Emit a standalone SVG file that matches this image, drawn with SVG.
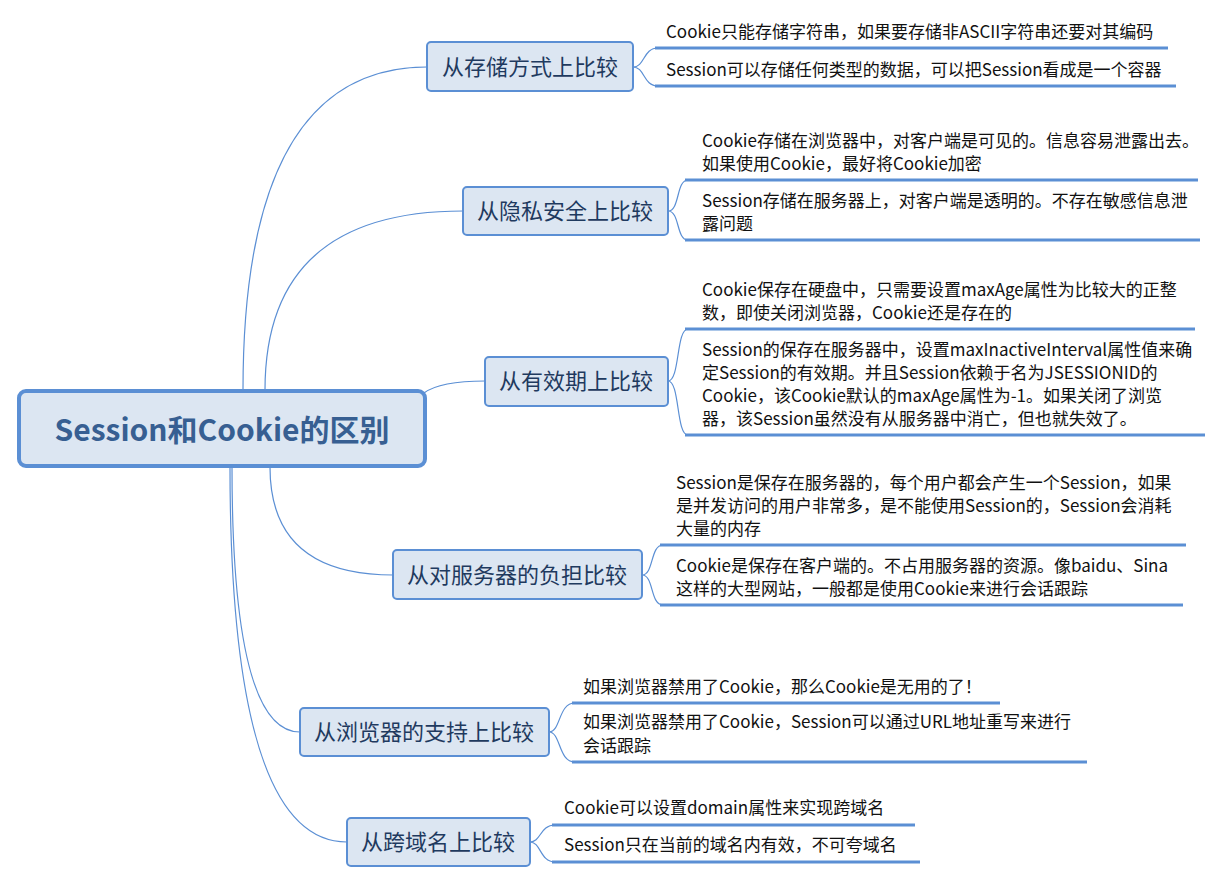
<svg xmlns="http://www.w3.org/2000/svg" width="1231" height="883" viewBox="0 0 1231 883">
<style>
.conn{fill:none;stroke:#5b8fd4;stroke-width:1.2}
.ul{fill:none;stroke:#5b8fd4;stroke-width:3}
.br{fill:#dce6f2;stroke:#5b8fd4;stroke-width:2}
.bt{font-family:"Noto Sans CJK SC",sans-serif;font-size:22px;fill:#1f3a5f;text-anchor:middle}
.lt{font-family:"Noto Sans CJK SC",sans-serif;font-size:17px;fill:#111}
.rt{font-family:"Noto Sans CJK SC",sans-serif;font-size:30px;font-weight:bold;fill:#375f92;text-anchor:middle}
</style>
<rect width="1231" height="883" fill="#fff"/>
<g id="connectors">
<path class="conn" d="M243 390 Q243 67 427 67"/>
<path class="conn" d="M265 390 Q265 211 463 211"/>
<path class="conn" d="M424 393 Q440 381 485 381"/>
<path class="conn" d="M270 467 Q270 575 393 575"/>
<path class="conn" d="M232 467 Q232 732 300 732"/>
<path class="conn" d="M230 467 Q230 842 347 842"/>
<path class="conn" d="M633 67 C645 67 643 48 658 48 M633 67 C645 67 643 86 658 86"/>
<path class="conn" d="M668 211 C680 211 676 180 688 180 M668 211 C680 211 676 240 688 240"/>
<path class="conn" d="M668 381 C680 381 676 329 688 329 M668 381 C680 381 676 435 688 435"/>
<path class="conn" d="M642 575 C654 575 650 545 663 545 M642 575 C654 575 650 605 663 605"/>
<path class="conn" d="M549 732 C561 732 558 703 575 703 M549 732 C561 732 558 762 575 762"/>
<path class="conn" d="M530 842 C541 842 540 825 555 825 M530 842 C541 842 540 862 555 862"/>
</g>
<g id="root">
<rect x="19" y="391" width="406" height="75" rx="7" fill="#dce6f2" stroke="#5b8fd4" stroke-width="4"/>
<text class="rt" x="222" y="441">Session和Cookie的区别</text>
</g>
<g id="n1">
<rect class="br" x="427" y="42" width="206" height="49" rx="4"/>
<text class="bt" x="530" y="75">从存储方式上比较</text>
<path class="ul" d="M655 48 H1168"/>
<text class="lt" x="666" y="38">Cookie只能存储字符串，如果要存储非ASCII字符串还要对其编码</text>
<path class="ul" d="M655 86 H1176"/>
<text class="lt" x="666" y="76">Session可以存储任何类型的数据，可以把Session看成是一个容器</text>
</g>
<g id="n2">
<rect class="br" x="463" y="187" width="205" height="48" rx="4"/>
<text class="bt" x="565" y="219">从隐私安全上比较</text>
<path class="ul" d="M685 180 H1198"/>
<text class="lt" x="702" y="147">Cookie存储在浏览器中，对客户端是可见的。信息容易泄露出去。</text>
<text class="lt" x="702" y="170">如果使用Cookie，最好将Cookie加密</text>
<path class="ul" d="M685 240 H1200"/>
<text class="lt" x="702" y="207">Session存储在服务器上，对客户端是透明的。不存在敏感信息泄</text>
<text class="lt" x="702" y="230">露问题</text>
</g>
<g id="n3">
<rect class="br" x="485" y="357" width="183" height="49" rx="4"/>
<text class="bt" x="576" y="389">从有效期上比较</text>
<path class="ul" d="M685 329 H1195"/>
<text class="lt" x="702" y="296">Cookie保存在硬盘中，只需要设置maxAge属性为比较大的正整</text>
<text class="lt" x="702" y="319">数，即使关闭浏览器，Cookie还是存在的</text>
<path class="ul" d="M685 435 H1205"/>
<text class="lt" x="702" y="356">Session的保存在服务器中，设置maxInactiveInterval属性值来确</text>
<text class="lt" x="702" y="379">定Session的有效期。并且Session依赖于名为JSESSIONID的</text>
<text class="lt" x="702" y="402">Cookie，该Cookie默认的maxAge属性为-1。如果关闭了浏览</text>
<text class="lt" x="702" y="425">器，该Session虽然没有从服务器中消亡，但也就失效了。</text>
</g>
<g id="n4">
<rect class="br" x="393" y="550" width="249" height="49" rx="4"/>
<text class="bt" x="517" y="583">从对服务器的负担比较</text>
<path class="ul" d="M660 545 H1186"/>
<text class="lt" x="676" y="489">Session是保存在服务器的，每个用户都会产生一个Session，如果</text>
<text class="lt" x="676" y="512">是并发访问的用户非常多，是不能使用Session的，Session会消耗</text>
<text class="lt" x="676" y="535">大量的内存</text>
<path class="ul" d="M660 605 H1183"/>
<text class="lt" x="676" y="572">Cookie是保存在客户端的。不占用服务器的资源。像baidu、Sina</text>
<text class="lt" x="676" y="595">这样的大型网站，一般都是使用Cookie来进行会话跟踪</text>
</g>
<g id="n5">
<rect class="br" x="300" y="708" width="249" height="48" rx="4"/>
<text class="bt" x="424" y="740">从浏览器的支持上比较</text>
<path class="ul" d="M572 703 H1000"/>
<text class="lt" x="583" y="693">如果浏览器禁用了Cookie，那么Cookie是无用的了！</text>
<path class="ul" d="M572 762 H1087"/>
<text class="lt" x="583" y="728">如果浏览器禁用了Cookie，Session可以通过URL地址重写来进行</text>
<text class="lt" x="583" y="752">会话跟踪</text>
</g>
<g id="n6">
<rect class="br" x="347" y="818" width="183" height="48" rx="4"/>
<text class="bt" x="438" y="850">从跨域名上比较</text>
<path class="ul" d="M552 825 H915"/>
<text class="lt" x="564" y="814">Cookie可以设置domain属性来实现跨域名</text>
<path class="ul" d="M552 862 H920"/>
<text class="lt" x="564" y="851">Session只在当前的域名内有效，不可夸域名</text>
</g>
</svg>
